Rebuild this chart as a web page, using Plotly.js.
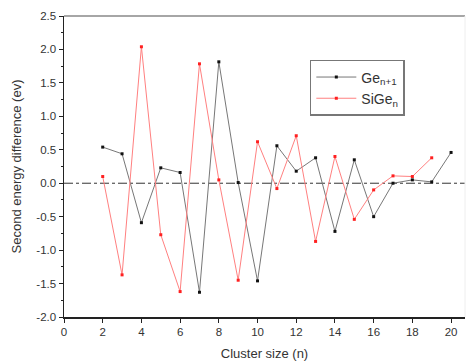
<!DOCTYPE html>
<html>
<head>
<meta charset="utf-8">
<script src="https://cdn.plot.ly/plotly-3.0.1.min.js"></script>
<style>html,body{margin:0;padding:0;background:#fff;}#chart{width:466px;height:361px;}</style>
</head>
<body>
<div id="chart"></div>
<script>
const geN = [2,3,4,5,6,7,8,9,10,11,12,13,14,15,16,17,18,19,20];
const geVals = [0.54,0.44,-0.59,0.23,0.16,-1.63,1.815,0.01,-1.46,0.56,0.18,0.38,-0.72,0.35,-0.50,0.0,0.05,0.02,0.46];
const siN = [2,3,4,5,6,7,8,9,10,11,12,13,14,15,16,17,18,19];
const siVals = [0.10,-1.37,2.04,-0.77,-1.62,1.785,0.05,-1.45,0.62,-0.08,0.71,-0.87,0.40,-0.54,-0.10,0.11,0.10,0.38];
const xTicks = [0,2,4,6,8,10,12,14,16,18,20];
const yTicks = [-2.0,-1.5,-1.0,-0.5,0.0,0.5,1.0,1.5,2.0,2.5];

const font = {family:'"Liberation Sans", Arial, sans-serif', color:'#333'};
const traces = [
  {x:geN, y:geVals, name:'Ge<sub>n+1</sub>', mode:'lines+markers', type:'scatter',
   line:{color:'#777', width:1}, marker:{color:'#111', size:3, symbol:'square'}},
  {x:siN, y:siVals, name:'SiGe<sub>n</sub>', mode:'lines+markers', type:'scatter',
   line:{color:'#ff8080', width:1}, marker:{color:'#ff2020', size:3, symbol:'square'}}
];
const layout = {
  width:466, height:361,
  margin:{l:64, r:1, t:16, b:43.5},
  paper_bgcolor:'#fff', plot_bgcolor:'#fff',
  showlegend:true,
  legend:{x:0.613, y:0.854, xanchor:'left', yanchor:'top', bgcolor:'#fff', itemwidth:40,
    bordercolor:'#777', borderwidth:1.5, font:Object.assign({size:14}, font), tracegroupgap:0},
  xaxis:{range:[0,20.72], tickvals:xTicks, ticktext:xTicks.map(String), ticks:'outside', ticklen:4,
    tickcolor:'#222', showline:true, linecolor:'#222', linewidth:1.5, showgrid:false, zeroline:false,
    tickfont:Object.assign({size:11.5}, font),
    title:{text:'Cluster size (n)', font:Object.assign({size:13}, font), standoff:11}},
  yaxis:{range:[-2,2.5], tickvals:yTicks, ticktext:yTicks.map(v=>v.toFixed(1)), ticks:'outside', ticklen:4,
    tickcolor:'#222', showline:true, linecolor:'#222', linewidth:1.5, showgrid:false, zeroline:false,
    tickfont:Object.assign({size:11.5}, font),
    minor:{dtick:0.25, tick0:0, ticks:'outside', ticklen:2, tickcolor:'#222'},
    title:{text:'Second energy difference (ev)', font:Object.assign({size:13}, font), standoff:12}},
  shapes:[
    {type:'line', xref:'paper', yref:'y', x0:0, x1:1, y0:0, y1:0, line:{color:'#333', width:1, dash:'dashdot'}, layer:'below'},
    {type:'line', xref:'paper', yref:'paper', x0:0, x1:1, y0:1, y1:1, line:{color:'#888', width:1.5}},
    {type:'line', xref:'paper', yref:'paper', x0:1, x1:1, y0:0, y1:1, line:{color:'#eee', width:1}}
  ]
};
Plotly.newPlot('chart', traces, layout, {displayModeBar:false, staticPlot:true});
</script>
</body>
</html>
